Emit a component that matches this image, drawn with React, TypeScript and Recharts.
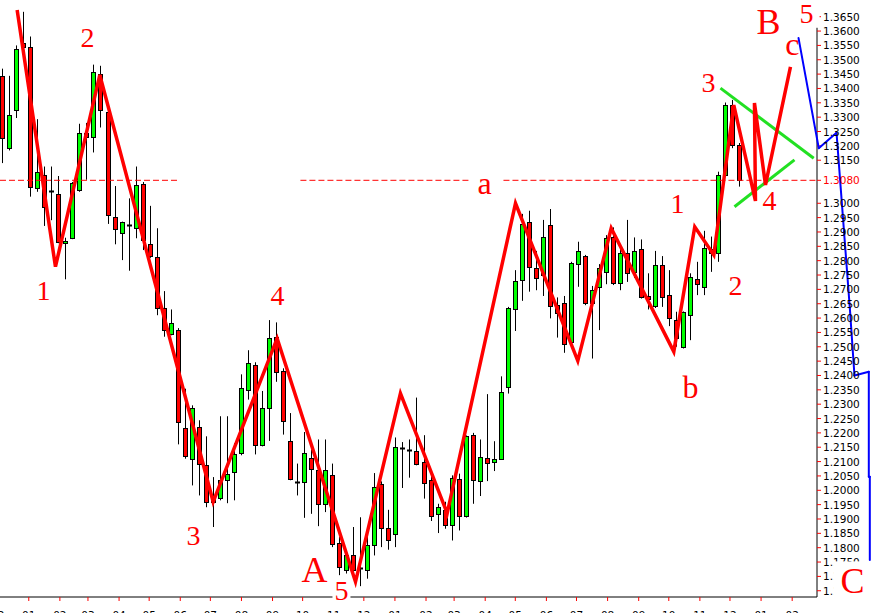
import React from "react";
import {
  ComposedChart,
  Bar,
  Line,
  XAxis,
  YAxis,
  ReferenceLine,
  ReferenceDot,
} from "recharts";

// Weekly EUR/USD candles, first week starting 2004-12-06
const opens = [
  1.3444, 1.3192, 1.3326, 1.356, 1.3546, 1.3052, 1.3099, 1.3043, 1.3032, 1.2861,
  1.2878, 1.3046, 1.3244, 1.323, 1.3451, 1.3318, 1.2951, 1.2895, 1.2925, 1.2913,
  1.3067, 1.2857, 1.2814, 1.2634, 1.2546, 1.256, 1.2218, 1.211, 1.222, 1.2087,
  1.1975, 1.1974, 1.2037, 1.2064, 1.2131, 1.2349, 1.2438, 1.2159, 1.2288, 1.2534,
  1.2416, 1.2172, 1.203, 1.2029, 1.2114, 1.2072, 1.1951, 1.2052, 1.1816, 1.1723,
  1.1773, 1.1728, 1.1723, 1.181, 1.2023, 1.1868, 1.1849, 1.2147, 1.214, 1.2136,
  1.2098, 1.2037, 1.1918, 1.1932, 1.188, 1.204, 1.1909, 1.2192, 1.2031, 1.2114,
  1.2098, 1.2109, 1.236, 1.263, 1.2732, 1.2936, 1.2773, 1.275, 1.2924, 1.2645,
  1.2651, 1.2517, 1.2788, 1.2816, 1.2651, 1.2709, 1.2759, 1.2884, 1.2723, 1.2826,
  1.2761, 1.284, 1.2677, 1.2642, 1.2784, 1.268, 1.2593, 1.25, 1.261, 1.2735,
  1.2707, 1.284, 1.2826, 1.3099, 1.3343, 1.3203,
];
const highs = [
  1.3469, 1.3444, 1.355, 1.3667, 1.3581, 1.3293, 1.3128, 1.3128, 1.3095, 1.288,
  1.3074, 1.3277, 1.328, 1.3483, 1.3479, 1.333, 1.306, 1.2936, 1.3017, 1.3128,
  1.3074, 1.2991, 1.2913, 1.2694, 1.263, 1.2565, 1.2354, 1.2296, 1.2244, 1.2188,
  1.2046, 1.2258, 1.2258, 1.2164, 1.2404, 1.2488, 1.2446, 1.2346, 1.2593, 1.2585,
  1.2425, 1.2269, 1.2093, 1.2203, 1.2142, 1.2177, 1.2177, 1.2093, 1.1837, 1.179,
  1.1872, 1.1906, 1.1843, 1.206, 1.2031, 1.1932, 1.2184, 1.2168, 1.2177, 1.2323,
  1.2192, 1.2049, 1.1953, 1.196, 1.2052, 1.2058, 1.2191, 1.22, 1.2177, 1.2335,
  1.2171, 1.2397, 1.2639, 1.2767, 1.2963, 1.2974, 1.2834, 1.2942, 1.298, 1.2672,
  1.2677, 1.2796, 1.2866, 1.282, 1.2712, 1.2788, 1.2889, 1.2916, 1.284, 1.2942,
  1.2881, 1.2874, 1.2756, 1.2834, 1.2816, 1.2767, 1.2622, 1.2623, 1.2756, 1.2796,
  1.2904, 1.2884, 1.311, 1.3351, 1.336, 1.321,
];
const lows = [
  1.314, 1.3184, 1.3297, 1.35, 1.3023, 1.304, 1.2921, 1.2941, 1.2861, 1.2735,
  1.2875, 1.304, 1.3082, 1.3177, 1.3264, 1.2928, 1.2857, 1.2802, 1.2765, 1.2878,
  1.2837, 1.281, 1.261, 1.2535, 1.254, 1.216, 1.211, 1.2017, 1.1982, 1.1941,
  1.1872, 1.1965, 1.1955, 1.1965, 1.2122, 1.2316, 1.2125, 1.2153, 1.2172, 1.2378,
  1.2194, 1.2035, 1.1982, 1.1904, 1.1918, 1.1875, 1.1924, 1.1802, 1.1703, 1.171,
  1.1692, 1.1666, 1.1692, 1.1773, 1.1802, 1.1793, 1.1802, 1.2008, 1.2044, 1.2087,
  1.1971, 1.1893, 1.1851, 1.1866, 1.1825, 1.186, 1.1905, 1.1953, 1.198, 1.2032,
  1.2067, 1.2107, 1.2337, 1.2555, 1.266, 1.2692, 1.2697, 1.2677, 1.2599, 1.2532,
  1.2479, 1.2509, 1.2709, 1.2645, 1.2459, 1.2558, 1.2718, 1.2715, 1.2697, 1.2726,
  1.274, 1.2668, 1.263, 1.2635, 1.2639, 1.2572, 1.25, 1.2494, 1.2523, 1.268,
  1.268, 1.2761, 1.2796, 1.3093, 1.3192, 1.3058,
];
const closes = [
  1.3227, 1.3308, 1.3537, 1.3546, 1.3056, 1.311, 1.2988, 1.304, 1.2866, 1.287,
  1.307, 1.3244, 1.323, 1.3457, 1.3326, 1.2959, 1.2909, 1.2934, 1.2924, 1.3064,
  1.2872, 1.2817, 1.2634, 1.256, 1.2583, 1.2238, 1.2119, 1.2288, 1.2093, 1.1959,
  1.196, 1.2037, 1.2058, 1.2125, 1.2358, 1.2442, 1.2157, 1.2288, 1.2532, 1.2412,
  1.224, 1.204, 1.2029, 1.2131, 1.2075, 1.1953, 1.2072, 1.1814, 1.1732, 1.1775,
  1.1721, 1.1725, 1.181, 1.2011, 1.1868, 1.1828, 1.2151, 1.2144, 1.2137, 1.2093,
  1.2027, 1.1909, 1.1941, 1.188, 1.2044, 1.191, 1.2188, 1.2037, 1.2116, 1.2095,
  1.211, 1.2341, 1.2634, 1.2729, 1.2927, 1.2777, 1.2738, 1.2881, 1.2642, 1.2618,
  1.2509, 1.2791, 1.2835, 1.2651, 1.2698, 1.2773, 1.2878, 1.2723, 1.2826, 1.2756,
  1.2835, 1.2674, 1.2665, 1.2785, 1.2674, 1.2601, 1.2529, 1.262, 1.2742, 1.2718,
  1.2843, 1.2826, 1.3099, 1.3343, 1.3203, 1.3081,
];

// x is measured in days from 2005-01-01
const FIRST_WEEK_START = "2004-12-06";
const ORIGIN = "2005-01-01";

const monthTickDays = [
  -31, 0, 31, 59, 90, 120, 151, 181, 212, 243, 273, 304, 334, 365, 396, 424, 455,
  485, 516, 546, 577, 608, 638, 669, 699, 730, 761,
];
const monthTickLabels = [
  "12", "01", "02", "03", "04", "05", "06", "07", "08", "09", "10", "11", "12",
  "01", "02", "03", "04", "05", "06", "07", "08", "09", "10", "11", "12", "01", "02",
];

const priceTicks = [
  1.165, 1.17, 1.175, 1.18, 1.185, 1.19, 1.195, 1.2, 1.205, 1.21, 1.215, 1.22,
  1.225, 1.23, 1.235, 1.24, 1.245, 1.25, 1.255, 1.26, 1.265, 1.27, 1.275, 1.28,
  1.285, 1.29, 1.295, 1.3, 1.308, 1.315, 1.32, 1.325, 1.33, 1.335, 1.34, 1.345,
  1.35, 1.355, 1.36, 1.365,
];
const LEVEL = 1.308;

// Elliott wave path (day, price)
const waveDays = [
  -11.6, 26.6, 70.8, 183.8, 247.6, 325.7, 370.5, 417.1, 485.2, 547.3, 580.6, 643.0,
  663.9, 682.9, 702.8, 724.4, 723.4, 734.4, 759.3,
];
const wavePrices = [
  1.3673, 1.2779, 1.3447, 1.196, 1.2529, 1.1681, 1.2338, 1.192, 1.3, 1.2451,
  1.2913, 1.2483, 1.2918, 1.282, 1.3342, 1.3008, 1.3349, 1.3064, 1.3475,
];
// Triangle lines
const triUpperDays = [689.5, 782.5];
const triUpperPrices = [1.3401, 1.3157];
const triLowerDays = [703.5, 763.3];
const triLowerPrices = [1.2988, 1.3151];
// Projection path
const projDays = [767.3, 787.5, 805.2, 818.5, 823.1, 837.4, 837.4, 838.4, 838.4];
const projPrices = [1.3576, 1.3192, 1.3246, 1.2634, 1.24, 1.2413, 1.2047, 1.2047, 1.1757];
// Dashed level pieces
const levelPieces = [
  [-28.7, 149.2],
  [270.8, 440.3],
  [473.2, 786],
];
// Wave labels
const labelTexts = ["1", "2", "3", "4", "A", "5", "a", "1", "2", "b", "3", "4", "B", "c", "5", "C"];
const labelDays = [14.7, 58.5, 164.2, 247.9, 284.8, 311.7, 454.3, 646.7, 704.5, 659.6, 677.5, 738.4, 737.4, 761.3, 775.3, 821.1];
const labelPrices = [1.2663, 1.3544, 1.1809, 1.2646, 1.168, 1.1618, 1.3032, 1.2966, 1.268, 1.2321, 1.3388, 1.2977, 1.359, 1.3517, 1.3628, 1.1642];
const labelWithBox = [false, false, false, false, false, true, false, false, false, false, false, false, false, false, true, true];

const DAY_MS = 86400000;
const firstOffset = (Date.parse(FIRST_WEEK_START) - Date.parse(ORIGIN)) / DAY_MS;

const candles = opens.map((o, i) => ({
  t: firstOffset + 7 * i,
  open: o,
  high: highs[i],
  low: lows[i],
  close: closes[i],
}));
const wave = waveDays.map((t, i) => ({ t, p: wavePrices[i] }));
const triUpper = triUpperDays.map((t, i) => ({ t, p: triUpperPrices[i] }));
const triLower = triLowerDays.map((t, i) => ({ t, p: triLowerPrices[i] }));

const X_DOMAIN = [-28.69, 785.75];
const Y_DOMAIN = [1.16282, 1.37082];

const Candle = (props: any) => {
  const { x, y, width, height, payload } = props;
  if (!payload || height == null) return null;
  const { open, close, high, low } = payload;
  const k = height / (high - low);
  const yo = y + (high - open) * k;
  const yc = y + (high - close) * k;
  const cx = Math.floor(x + width / 2) + 0.5;
  const top = Math.round(Math.min(yo, yc)) + 0.5;
  const bot = Math.round(Math.max(yo, yc)) + 0.5;
  const up = close >= open;
  return (
    <g>
      <line x1={cx} y1={y} x2={cx} y2={y + height} stroke="#000" strokeWidth={1} />
      {bot - top < 1.5 ? (
        <rect x={cx - 2.5} y={top - 1} width={5} height={2} fill="#000" />
      ) : (
        <rect
          x={cx - 2}
          y={top}
          width={4}
          height={bot - top}
          fill={up ? "#00ff00" : "#ff0000"}
          stroke="#000"
          strokeWidth={1}
        />
      )}
    </g>
  );
};

const MonthTick = (props: any) => {
  const { x, y, payload } = props;
  const idx = monthTickDays.indexOf(payload.value);
  return (
    <text
      x={x}
      y={y + 16}
      textAnchor="middle"
      fontFamily="DejaVu Sans"
      fontSize={10.5}
      fill="#000"
    >
      {monthTickLabels[idx]}
    </text>
  );
};

const PriceTick = (props: any) => {
  const { x, y, payload } = props;
  const v = payload.value;
  return (
    <text
      x={x}
      y={y}
      dy={4}
      textAnchor="start"
      fontFamily="DejaVu Sans"
      fontSize={10.5}
      fill={Math.abs(v - LEVEL) < 1e-6 ? "#ff0000" : "#000"}
    >
      {v.toFixed(4)}
    </text>
  );
};

const makeLabel = (text: string, boxed: boolean) => (props: any) => {
  const { cx, cy } = props;
  const isCap = /[A-Z]/.test(text);
  const isLower = /[a-z]/.test(text);
  const size = isCap ? 36 : isLower ? 32 : 28;
  let box = null;
  if (boxed) {
    const w = text === "C" ? 44 : 18;
    const left = text === "C" ? cx - 19 : text === "5" && cy < 50 ? cx - 8 : cx - 9;
    const bw = text === "5" && cy < 50 ? 21 : w;
    box = (
      <rect x={left} y={cy - size * 0.88} width={bw} height={size * 1.05} fill="#fff" />
    );
  }
  return (
    <g>
      {box}
      <text
        x={cx}
        y={cy}
        textAnchor="middle"
        fontFamily="Liberation Serif"
        fontSize={size}
        fill="#ff0000"
      >
        {text}
      </text>
    </g>
  );
};

export default function App() {
  return (
    <div
      style={{
        position: "absolute",
        left: 0,
        top: 0,
        width: 886,
        height: 613,
        overflow: "hidden",
        background: "#fff",
      }}
    >
      <ComposedChart
        width={886}
        height={625}
        data={candles}
        margin={{ top: 0, right: 0, bottom: 0, left: 0 }}
      >
        <XAxis
          dataKey="t"
          type="number"
          domain={X_DOMAIN}
          allowDataOverflow
          ticks={monthTickDays}
          interval={0}
          tick={<MonthTick />}
          tickSize={4}
          tickLine={{ stroke: "#ff0000" }}
          axisLine={{ stroke: "#000" }}
          height={28}
        />
        <XAxis
          xAxisId="w"
          dataKey="t"
          type="number"
          domain={X_DOMAIN}
          allowDataOverflow
          hide
        />
        <YAxis
          orientation="right"
          type="number"
          domain={Y_DOMAIN}
          allowDataOverflow
          ticks={priceTicks}
          interval={0}
          width={69}
          tickSize={4}
          tickLine={{ stroke: "#ff0000" }}
          axisLine={{ stroke: "#000" }}
          tick={<PriceTick />}
        />
        {levelPieces.map((seg, i) => (
          <ReferenceLine
            key={"lvl" + i}
            segment={[
              { x: seg[0], y: LEVEL },
              { x: seg[1], y: LEVEL },
            ]}
            stroke="#ff0000"
            strokeWidth={1}
            strokeDasharray="6 3"
            ifOverflow="visible"
          />
        ))}
        <Bar
          dataKey={(d: any) => [d.low, d.high]}
          barSize={5}
          shape={<Candle />}
          isAnimationActive={false}
        />
        <Line
          xAxisId="w"
          data={triUpper}
          dataKey="p"
          type="linear"
          stroke="#22e022"
          strokeWidth={3}
          dot={false}
          activeDot={false}
          isAnimationActive={false}
        />
        <Line
          xAxisId="w"
          data={triLower}
          dataKey="p"
          type="linear"
          stroke="#22e022"
          strokeWidth={3}
          dot={false}
          activeDot={false}
          isAnimationActive={false}
        />
        <Line
          xAxisId="w"
          data={wave}
          dataKey="p"
          type="linear"
          stroke="#ff0000"
          strokeWidth={3.5}
          dot={false}
          activeDot={false}
          isAnimationActive={false}
        />
        {projDays.slice(1).map((t, i) => (
          <ReferenceLine
            key={"proj" + i}
            segment={[
              { x: projDays[i], y: projPrices[i] },
              { x: t, y: projPrices[i + 1] },
            ]}
            stroke="#0000ff"
            strokeWidth={2}
            strokeLinecap="round"
            ifOverflow="visible"
            zIndex={1500}
          />
        ))}
        {labelTexts.map((txt, i) => (
          <ReferenceDot
            key={"lab" + i}
            x={labelDays[i]}
            y={labelPrices[i]}
            r={0}
            ifOverflow="visible"
            zIndex={labelWithBox[i] ? 2500 : 1000}
            shape={makeLabel(txt, labelWithBox[i])}
          />
        ))}
      </ComposedChart>
    </div>
  );
}
